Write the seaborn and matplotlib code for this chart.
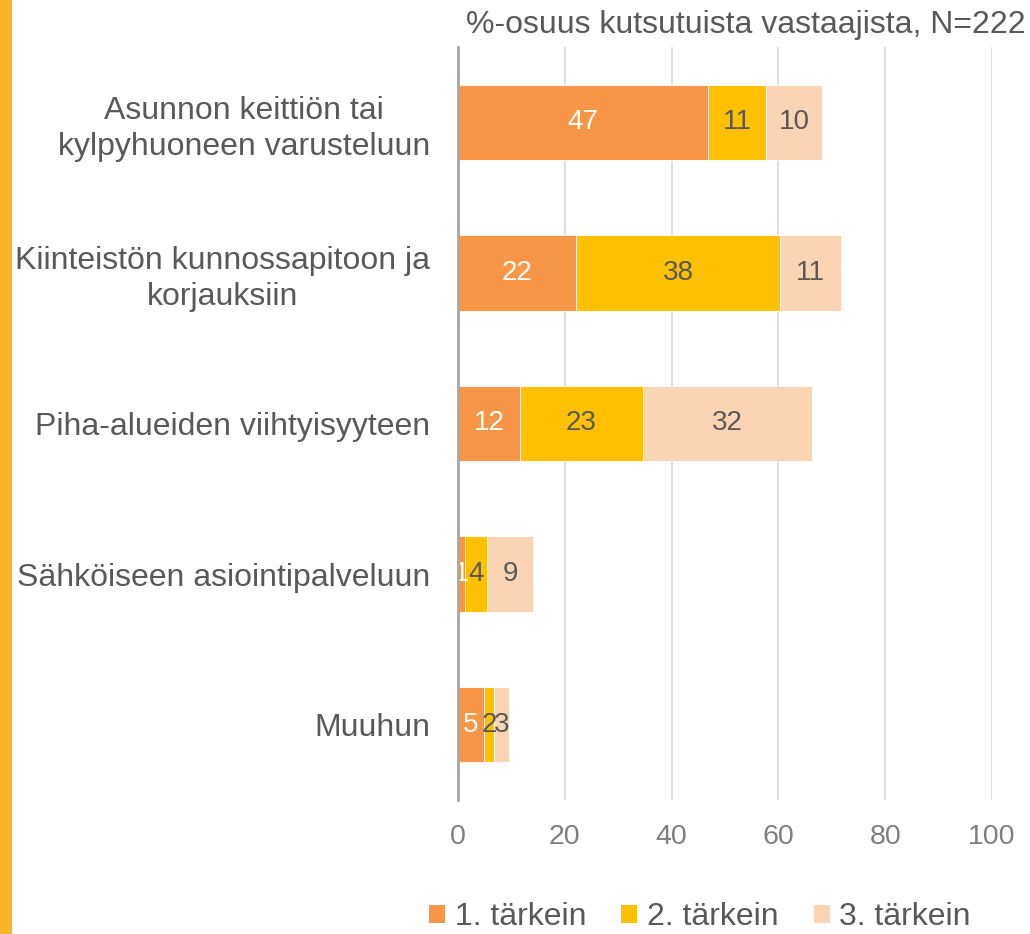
import matplotlib
matplotlib.use("Agg")
import matplotlib.pyplot as plt
from matplotlib.patches import Rectangle, Patch
import numpy as np
import pandas as pd
import seaborn as sns

# Survey shares (%) of invited respondents, N=222
categories = [
    "Asunnon keittiön tai\nkylpyhuoneen varusteluun",
    "Kiinteistön kunnossapitoon ja\nkorjauksiin",
    "Piha-alueiden viihtyisyyteen",
    "Sähköiseen asiointipalveluun",
    "Muuhun",
]
first = [46.9, 22.1, 11.6, 1.3, 4.9]
second = [10.8, 38.2, 23.0, 4.2, 1.9]
third = [10.4, 11.4, 31.7, 8.6, 2.8]
series_names = ["1. tärkein", "2. tärkein", "3. tärkein"]
xticks = [0, 20, 40, 60, 80, 100]
title = "%-osuus kutsutuista vastaajista, N=222"

colors = ["#F79646", "#FFC000", "#FBD4B4"]
label_colors = ["white", "#595959", "#595959"]
text_gray = "#595959"
tick_gray = "#7F7F7F"

sns.set_theme(style="white")
plt.rcParams["font.family"] = ["Liberation Sans", "DejaVu Sans"]

df = pd.DataFrame({"cat": categories, "s1": first, "s2": second, "s3": third})
df["c1"] = df["s1"]
df["c2"] = df["s1"] + df["s2"]
df["c3"] = df["c2"] + df["s3"]

fig = plt.figure(figsize=(10.30, 9.34), dpi=100)
ax = fig.add_axes([458 / 1030, 1 - 800 / 934, 534 / 1030, 753 / 934])

# Stacked bars: draw cumulative totals from largest to smallest
for col, color in zip(["c3", "c2", "c1"], colors[::-1]):
    sns.barplot(data=df, x=col, y="cat", orient="h", color=color, width=0.5,
                saturation=1, edgecolor="white", linewidth=0.6, ax=ax, zorder=3)

# Segment value labels
lefts = np.zeros(len(categories))
for vals, lc in zip([first, second, third], label_colors):
    vals = np.array(vals)
    for i, (l, v) in enumerate(zip(lefts, vals)):
        ax.text(l + v / 2, i, f"{v:.0f}", ha="center", va="center",
                color=lc, fontsize=20, zorder=5)
    lefts = lefts + vals

ax.set_xlim(0, 100)
ax.set_ylim(4.5, -0.5)
ax.set_xticks(xticks)
ax.set_xticklabels([str(t) for t in xticks])
ax.set_xlabel("")
ax.set_ylabel("")
ax.grid(axis="x", color="#D9D9D9", linewidth=1.2, zorder=0)
ax.grid(axis="y", visible=False)
for s in ["top", "right", "bottom"]:
    ax.spines[s].set_visible(False)
ax.spines["left"].set_color("#A6A6A6")
ax.spines["left"].set_linewidth(2)
ax.spines["left"].set_zorder(6)
ax.tick_params(axis="x", length=0, pad=17, labelsize=20.5, labelcolor=tick_gray)
ax.tick_params(axis="y", length=0, pad=20, labelsize=23, labelcolor=text_gray)
for lab in ax.get_yticklabels():
    lab.set_multialignment("center")
    lab.set_linespacing(1.25)

fig.text(0.996, 1 - 25 / 934, title, ha="right", va="center",
         fontsize=23, color=text_gray)

# Accent stripe on the left edge
fig.patches.append(Rectangle((0, 0), 12 / 1030, 1, transform=fig.transFigure,
                             facecolor="#F8B527", edgecolor="none"))

handles = [Patch(facecolor=c, edgecolor="none") for c in colors]
fig.legend(handles, series_names, ncol=3, loc="center",
           bbox_to_anchor=(700 / 1030, 1 - 917 / 934), frameon=False, fontsize=23,
           handlelength=0.5, handleheight=0.5, handletextpad=0.3,
           columnspacing=1.1, labelcolor=text_gray)

fig.savefig("out.png", dpi=100)
